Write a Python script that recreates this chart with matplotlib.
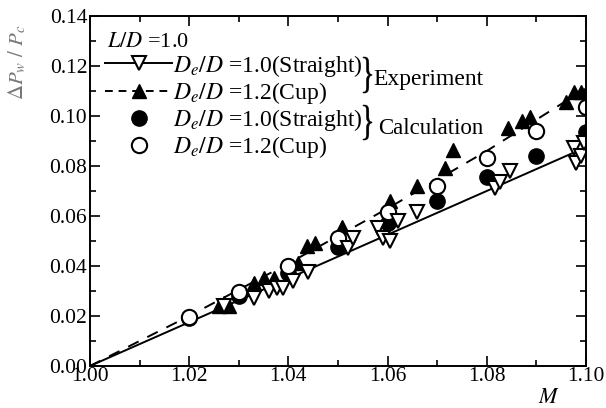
import numpy as np
import matplotlib
matplotlib.use("Agg")
from matplotlib import pyplot as plt
from matplotlib.lines import Line2D
from matplotlib.textpath import TextPath
from matplotlib.patches import PathPatch
from matplotlib.font_manager import FontProperties
from matplotlib.transforms import Affine2D, IdentityTransform

plt.rcParams['font.family'] = ['Liberation Serif', 'DejaVu Serif']
plt.rcParams['mathtext.fontset'] = 'stix'

# experiment, straight nozzle (open triangles)
exp_str_m = [1.027, 1.033, 1.036, 1.0377, 1.039, 1.041, 1.044, 1.052, 1.053, 1.058,
             1.059, 1.0605, 1.062, 1.066, 1.0817, 1.0827, 1.0847, 1.0975, 1.098, 1.099, 1.0995]
exp_str_v = [0.024, 0.027, 0.030, 0.031, 0.031, 0.034, 0.0376, 0.047, 0.051, 0.055,
             0.051, 0.050, 0.058, 0.0616, 0.071, 0.0736, 0.078, 0.087, 0.081, 0.084, 0.089]

# experiment, cup nozzle (filled triangles)
exp_cup_m = [1.026, 1.027, 1.028, 1.033, 1.035, 1.037, 1.042, 1.0437, 1.0454, 1.0508,
             1.0605, 1.066, 1.0716, 1.0732, 1.0843, 1.0871, 1.0887, 1.096, 1.0975, 1.099]
exp_cup_v = [0.024, 0.025, 0.024, 0.033, 0.035, 0.035, 0.041, 0.048, 0.049, 0.0556,
             0.066, 0.072, 0.079, 0.0864, 0.095, 0.098, 0.0996, 0.1056, 0.1096, 0.1096]

# calculation
calc_m = [1.02, 1.03, 1.04, 1.05, 1.06, 1.07, 1.08, 1.09, 1.10]
calc_str_v = [0.019, 0.028, 0.037, 0.0476, 0.057, 0.066, 0.0757, 0.084, 0.0936]
calc_cup_v = [0.0195, 0.0296, 0.040, 0.051, 0.0616, 0.072, 0.083, 0.094, 0.1036]

# fitted lines
fit_str_m = [1.00, 1.10]
fit_str_v = [0.0, 0.0875]
fit_cup_m = [1.00, 1.02, 1.04, 1.06, 1.08, 1.10]
fit_cup_v = [0.0, 0.020, 0.041, 0.063, 0.086, 0.111]

x_ticks = [1.00, 1.02, 1.04, 1.06, 1.08, 1.10]
y_ticks = [0.00, 0.02, 0.04, 0.06, 0.08, 0.10, 0.12, 0.14]

H = 408
fig = plt.figure(figsize=(6.06, 4.08), dpi=100)
ax = fig.add_axes([0.1485, 0.103, 0.8185, 0.858])

ax.plot(fit_str_m, fit_str_v, '-', color='black', lw=1.4)
ax.plot(fit_cup_m, fit_cup_v, '--', color='black', lw=1.4, dashes=(6, 5))

ms = 10
ax.plot(exp_cup_m, exp_cup_v, '^', color='black', ms=ms, ls='none')
ax.plot(calc_m, calc_str_v, 'o', color='black', ms=ms + 1, ls='none')
ax.plot(calc_m, calc_cup_v, 'o', mfc='white', mec='black', mew=1.5, ms=ms + 1, ls='none')
ax.plot(exp_str_m, exp_str_v, 'v', mfc='white', mec='black', mew=1.5, ms=ms, ls='none')

ax.set_xlim(1.00, 1.10)
ax.set_ylim(0.00, 0.14)
ax.set_xticks(x_ticks)
ax.set_yticks(y_ticks)
ax.set_xticklabels(['%.2f' % t for t in x_ticks])
ax.set_yticklabels(['%.2f' % t for t in y_ticks])
ax.set_xticks(np.arange(1.01, 1.10, 0.02), minor=True)
ax.set_yticks(np.arange(0.01, 0.14, 0.02), minor=True)
ax.tick_params(which='both', direction='in', top=True, right=True, labelsize=15.5, width=1.2)
ax.tick_params(which='major', length=7)
ax.tick_params(which='minor', length=4)
ax.tick_params(axis='x', pad=1)
ax.tick_params(axis='y', pad=2)
for s in ax.spines.values():
    s.set_linewidth(1.4)

ax.set_xlabel('$M$', fontsize=16)
ax.xaxis.set_label_coords(0.925, -0.065)
ax.set_ylabel(r'$\Delta P_w\ /\ P_c$', fontsize=15, color='#777777')
ax.yaxis.set_label_coords(-0.125, 0.866)

handles = [
    Line2D([], [], color='black', lw=1.4, marker='v', mfc='white', mec='black', mew=1.5, ms=ms),
    Line2D([], [], color='black', lw=1.4, ls='--', dashes=(4, 3), marker='^', mfc='black', mec='black', ms=ms),
    Line2D([], [], color='black', lw=0, marker='o', mfc='black', mec='black', ms=ms + 1),
    Line2D([], [], color='black', lw=0, marker='o', mfc='white', mec='black', mew=1.5, ms=ms + 1),
]
labels = [r'$D_e/D$ =1.0(Straight)', r'$D_e/D$ =1.2(Cup)',
          r'$D_e/D$ =1.0(Straight)', r'$D_e/D$ =1.2(Cup)']
ax.legend(handles, labels, loc='upper left', bbox_to_anchor=(0.03, 0.895), frameon=False,
          fontsize=17, handlelength=2.85, handletextpad=0.05, labelspacing=0.05,
          borderpad=0, borderaxespad=0)

ax.text(0.035, 0.925, r'$L/D$ =1.0', transform=ax.transAxes, fontsize=16, va='center', ha='left')

ax.text(373, H - 80, 'Experiment', transform=IdentityTransform(), fontsize=17, va='center', ha='left')
ax.text(378, H - 128, 'Calculation', transform=IdentityTransform(), fontsize=16.5, va='center', ha='left')

# curly braces, stretched to span two legend rows
brace = TextPath((0, 0), '}', size=1, prop=FontProperties(family='Liberation Serif'))
ext = brace.get_extents()
for x0, top, bot in [(363, 57, 93), (363, 105, 140)]:
    sx = 9 / ext.width
    sy = (bot - top) / ext.height
    tr = Affine2D().translate(-ext.x0, -ext.y0).scale(sx, sy).translate(x0, H - bot)
    fig.patches.append(PathPatch(brace, transform=tr, color='black', lw=0.3))

fig.savefig('out.png', dpi=100)
